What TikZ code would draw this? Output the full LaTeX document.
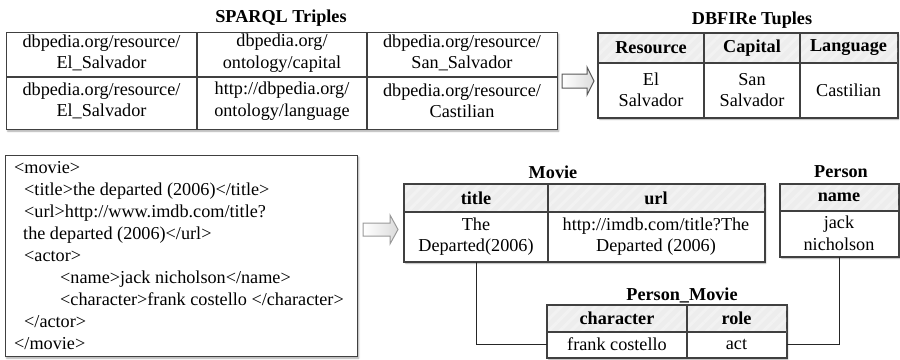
\documentclass[tikz,border=0pt]{standalone}
\usepackage{fontspec}
\setmainfont{Liberation Serif}
\usetikzlibrary{shadows.blur,patterns.meta}

\tikzset{
  grid/.style={draw=black!75, line width=1.1pt},
  tbl/.style={grid, fill=white, inner sep=0pt, anchor=north west,
    blur shadow={shadow xshift=1.2pt, shadow yshift=-1.6pt, shadow blur steps=4,
                 shadow blur radius=1.6pt, shadow opacity=35}},
  hdr/.style={fill=black!7, postaction={pattern={Lines[angle=45,distance=8pt,line width=3pt]},
                                        pattern color=black!5}},
  cell/.style={font=\fontsize{18.2}{21.5}\selectfont, align=center, inner sep=0pt},
  head/.style={font=\fontsize{18.2}{21.5}\selectfont\bfseries, inner sep=0pt},
  ttl/.style={font=\fontsize{18.2}{21.5}\selectfont\bfseries, inner sep=0pt},
  xml/.style={font=\fontsize{18.2}{21.5}\selectfont, anchor=base west, inner sep=0pt},
  blockarrow/.style={line width=1pt, left color=white, right color=black!14},
  link/.style={draw=black!85, line width=1pt},
}

\begin{document}
\begin{tikzpicture}[x=1pt,y=-1pt]
\useasboundingbox (0,0) rectangle (900,359);

% ---------- SPARQL triples ----------
\node[ttl] (tsp) at (281,18) {SPARQL Triples};
\node[tbl, minimum width=551pt, minimum height=97pt] (sp) at (6,32) {};
\draw[grid] (6,77) -- (557,77) (197,32) -- (197,129) (367,32) -- (367,129);
\node[cell] (s11) at (101.5,53) {dbpedia.org/resource/\\El\_Salvador};
\node[cell] (s12) at (282,53) {dbpedia.org/\\ontology/capital};
\node[cell] (s13) at (462,53) {dbpedia.org/resource/\\San\_Salvador};
\node[cell] (s21) at (101.5,101) {dbpedia.org/resource/\\El\_Salvador};
\node[cell] (s22) at (282,101) {http://dbpedia.org/\\ontology/language};
\node[cell] (s23) at (462,101) {dbpedia.org/resource/\\Castilian};

% block arrow: triples -> tuples
\draw[blockarrow, draw=black!65] (562,74) -- (587,74) -- (587,67) -- (594,81)
  -- (587,95) -- (587,88) -- (562,88) -- cycle;

% ---------- DBFIRe tuples ----------
\node[ttl] (tdb) at (752,20) {DBFIRe Tuples};
\node[tbl, minimum width=299pt, minimum height=84pt] (db) at (598,33) {};
\path[hdr] (598,33) rectangle (897,63);
\draw[grid] (598,63) -- (897,63) (704,33) -- (704,117) (800,33) -- (800,117);
\draw[grid] (db.north west) rectangle (db.south east);
\node[head] (hres) at (651,48) {Resource};
\node[head] (hcap) at (752,48) {Capital};
\node[head] (hlang) at (848.5,48) {Language};
\node[cell] (dres) at (651,90) {El\\Salvador};
\node[cell] (dcap) at (752,90) {San\\Salvador};
\node[cell] (dlang) at (848.5,90) {Castilian};

% ---------- XML document ----------
\node[tbl, minimum width=352pt, minimum height=201pt] (xb) at (5,155) {};
\node[xml] (x1) at (14,173) {<movie>};
\node[xml] (x2) at (24,195) {<title>the departed (2006)</title>};
\node[xml] (x3) at (24,217) {<url>http://www.imdb.com/title?};
\node[xml] (x4) at (23,239) {the departed (2006)</url>};
\node[xml] (x5) at (24,261) {<actor>};
\node[xml] (x6) at (60,283) {<name>jack nicholson</name>};
\node[xml] (x7) at (60,305) {<character>frank costello </character>};
\node[xml] (x8) at (24,327) {</actor>};
\node[xml] (x9) at (14,349) {</movie>};

% block arrow: XML -> relations
\draw[blockarrow, draw=black!40] (363,223) -- (390,223) -- (390,215) -- (398,229.5)
  -- (390,244) -- (390,236) -- (363,236) -- cycle;

% ---------- Movie ----------
\node[ttl] (tmv) at (553,172) {Movie};
\node[tbl, minimum width=360pt, minimum height=77pt] (mv) at (404,184) {};
\path[hdr] (404,184) rectangle (764,212);
\draw[grid] (404,212) -- (764,212) (548,184) -- (548,261);
\draw[grid] (mv.north west) rectangle (mv.south east);
\node[head] (tt) at (476,198) {title};
\node[head] (tu) at (656,198) {url};
\node[cell] (dt) at (476,236.5) {The\\Departed(2006)};
\node[cell] (du) at (656,236.5) {http://imdb.com/title?The\\Departed (2006)};

% ---------- Person ----------
\node[ttl] (tpr) at (841,172) {Person};
\node[tbl, minimum width=118pt, minimum height=72pt] (pr) at (780,184) {};
\path[hdr] (780,184) rectangle (898,211);
\draw[grid] (780,211) -- (898,211);
\draw[grid] (pr.north west) rectangle (pr.south east);
\node[head] (pn) at (839,197.5) {name};
\node[cell] (dn) at (839,233.5) {jack\\nicholson};

% ---------- Person_Movie ----------
\node[ttl] (tpm) at (682,295) {Person\_Movie};
\node[tbl, minimum width=239pt, minimum height=52pt] (pm) at (547,305) {};
\path[hdr] (547,305) rectangle (786,332);
\draw[grid] (547,332) -- (786,332) (687,305) -- (687,357);
\draw[grid] (pm.north west) rectangle (pm.south east);
\node[head] (pc) at (617,318.5) {character};
\node[head] (prl) at (736.5,318.5) {role};
\node[cell] (fc) at (617,344.5) {frank costello};
\node[cell] (ac) at (736.5,344.5) {act};

% ---------- links ----------
\draw[link] (tt |- mv.south) |- (pm.west |- fc);
\draw[link] (pr.south) |- (pm.east |- fc);
\end{tikzpicture}
\end{document}
